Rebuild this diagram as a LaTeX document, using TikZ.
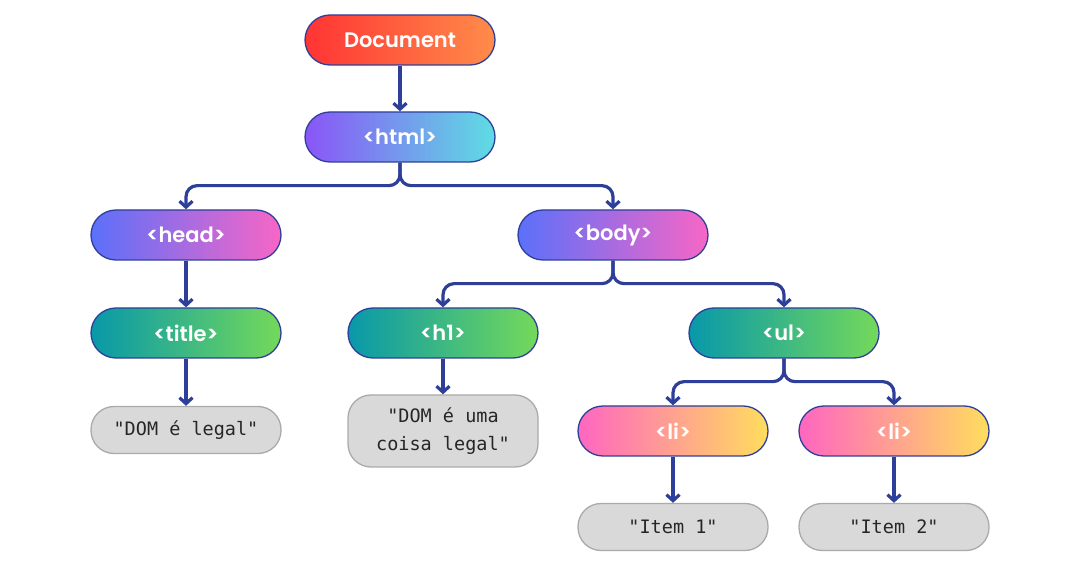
\documentclass[tikz,border=0pt]{standalone}
\usepackage{fontspec}
\setmainfont{Poppins}[BoldFont={Poppins SemiBold}]
\setmonofont{DejaVu Sans Mono}
\usetikzlibrary{positioning,arrows.meta}
\definecolor{domline}{RGB}{46,63,154}
\definecolor{domred}{RGB}{255,52,52}
\definecolor{domorange}{RGB}{255,140,74}
\definecolor{dompurple}{RGB}{138,85,247}
\definecolor{domcyan}{RGB}{94,221,227}
\definecolor{domblue}{RGB}{91,112,250}
\definecolor{dompink}{RGB}{247,102,198}
\definecolor{domteal}{RGB}{8,152,170}
\definecolor{domgreen}{RGB}{116,217,90}
\definecolor{lipink}{RGB}{255,102,192}
\definecolor{liyellow}{RGB}{255,221,94}
\definecolor{txtfill}{RGB}{217,217,217}
\definecolor{txtborder}{RGB}{170,170,170}

\tikzset{
  tag/.style={rectangle,rounded corners=25pt,draw=domline,line width=1.3pt,
    minimum width=190pt,minimum height=50pt,text=white,
    font=\fontsize{21}{24}\selectfont\bfseries},
  txt/.style={rectangle,rounded corners=23pt,draw=txtborder,line width=1.3pt,
    fill=txtfill,minimum width=190pt,minimum height=47pt,text=black!85,
    font=\ttfamily\fontsize{18.5}{28}\selectfont,align=center},
  link/.style={draw=domline,line width=3.2pt,rounded corners=11pt,
    -{Straight Barb[length=6pt,width=13pt]}},
}

\begin{document}
\begin{tikzpicture}[x=1pt,y=-1pt]
\useasboundingbox (0,0) rectangle (1080,569);

% Tags
\node[tag,left color=domred,right color=domorange] (doc) at (400,40) {Document};
\node[tag,left color=dompurple,right color=domcyan] (html) at (400,137) {<html>};

\node[tag,left color=domblue,right color=dompink] (head) at (186,235) {<head>};
\node[tag,left color=domblue,right color=dompink] (body) at (613,235) {<body>};

\node[tag,left color=domteal,right color=domgreen] (title) at (186,333) {<title>};
\node[tag,left color=domteal,right color=domgreen] (h1) at (443,333) {<h1>};
\node[tag,left color=domteal,right color=domgreen] (ul) at (784,333) {<ul>};

\node[tag,left color=lipink,right color=liyellow] (li1) at (673,431) {<li>};
\node[tag,left color=lipink,right color=liyellow] (li2) at (894,431) {<li>};

% Text nodes
\node[txt] (titletxt) at (186,430) {"DOM é legal"};
\node[txt,minimum height=72pt] (h1txt) at (443,431) {"DOM é uma\\coisa legal"};
\node[txt] (item1) at (673,527) {"Item 1"};
\node[txt] (item2) at (894,527) {"Item 2"};

% Links
\draw[link] (doc) -- (html);
\draw[link] (html.south) -- ++(0,23) -| (head.north);
\draw[link] (html.south) -- ++(0,23) -| (body.north);
\draw[link] (head) -- (title);
\draw[link] (title) -- (titletxt);
\draw[link] (body.south) -- ++(0,23) -| (h1.north);
\draw[link] (body.south) -- ++(0,23) -| (ul.north);
\draw[link] (h1) -- (h1txt);
\draw[link] (ul.south) -- ++(0,23) -| (li1.north);
\draw[link] (ul.south) -- ++(0,23) -| (li2.north);
\draw[link] (li1) -- (item1);
\draw[link] (li2) -- (item2);
\end{tikzpicture}
\end{document}
